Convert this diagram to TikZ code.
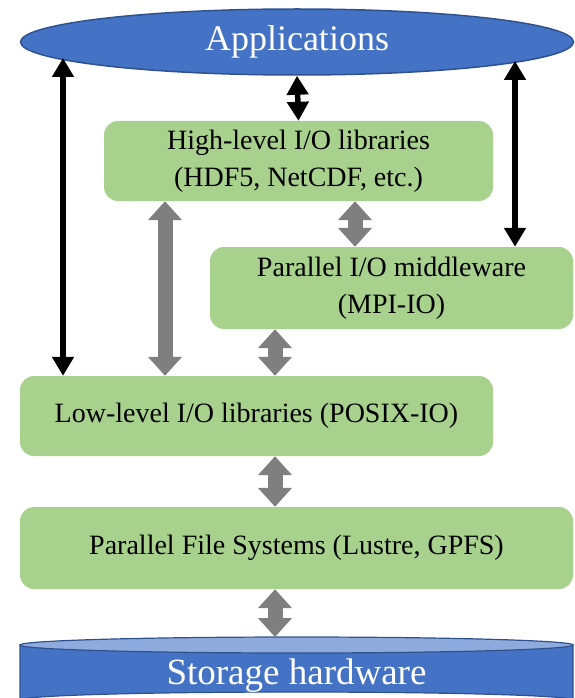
\documentclass[tikz,border=0pt]{standalone}
\usepackage{fontspec}
\setmainfont{Liberation Serif}
\usetikzlibrary{arrows.meta,shapes.geometric}
\definecolor{appblue}{HTML}{4472C4}
\definecolor{appedge}{HTML}{2F528F}
\definecolor{boxgreen}{HTML}{A9D18E}
\definecolor{arrgrey}{HTML}{7F7F7F}
\definecolor{cyltop}{HTML}{8FAADC}
\begin{document}
\begin{tikzpicture}[x=1pt,y=-1pt,
  box/.style={fill=boxgreen, rounded corners=14pt, align=center, inner sep=0pt,
    font=\fontsize{28}{37}\selectfont},
  fatarrow/.style={draw=arrgrey, line width=15pt,
    {Triangle[length=19pt,width=33pt]}-{Triangle[length=19pt,width=33pt]}},
  blackarrow/.style={draw=black, line width=5.5pt,
    {Triangle[length=19pt,width=21pt]}-{Triangle[length=19pt,width=21pt]}}]
\useasboundingbox (0,0) rectangle (574,698);

% applications
\node[ellipse, fill=appblue, draw=appedge, line width=1.5pt, inner sep=0pt,
  minimum width=553pt, minimum height=66pt, text=white,
  font=\fontsize{36}{40}\selectfont] (app) at (297,42) {Applications};

% boxes
\node[box, minimum width=389pt, minimum height=80pt] (high) at (298.5,161)
  {High-level I/O libraries\\(HDF5, NetCDF, etc.)};
\node[box, minimum width=363pt, minimum height=82pt] (mid) at (391.5,288)
  {Parallel I/O middleware\\(MPI-IO)};
\node[box, minimum width=473pt, minimum height=80pt] (low) at (256.5,416)
  {Low-level I/O libraries (POSIX-IO)};
\node[box, minimum width=553pt, minimum height=82pt] (pfs) at (296.5,548)
  {Parallel File Systems (Lustre, GPFS)};

% storage cylinder
\filldraw[fill=appblue, draw=appedge, line width=1.2pt]
  (20,645) -- (20,700) arc[start angle=180, end angle=360, x radius=276.5, y radius=8]
  -- (573,645) -- cycle;
\filldraw[fill=cyltop, draw=appedge, line width=1.2pt]
  (296.5,645) ellipse [x radius=276.5, y radius=8];
\node[text=white, font=\fontsize{37}{40}\selectfont] (stor) at (296.5,676) {Storage hardware};
\coordinate (stortop) at (296.5,637);

% x positions of grey arrows
\coordinate (cA) at (355,0);
\coordinate (cB) at (165,0);
\coordinate (cC) at (275,0);

% ends of the black side arrows on the ellipse border
\coordinate (appL) at (63,58);
\coordinate (appR) at (515,61);

% grey arrows
\draw[fatarrow] (high.south -| cA) -- (mid.north -| cA);
\draw[fatarrow] (high.south -| cB) -- (low.north -| cB);
\draw[fatarrow] (mid.south -| cC) -- (low.north -| cC);
\draw[fatarrow] (low.south -| cC) -- (pfs.north -| cC);
\draw[fatarrow] (pfs.south -| cC) -- (stortop -| cC);

% black arrows
\draw[blackarrow] (appL) -- (appL |- low.north);
\draw[blackarrow] (appR) -- (appR |- mid.north);
\draw[blackarrow] (app.south) -- (high.north);
\end{tikzpicture}
\end{document}
